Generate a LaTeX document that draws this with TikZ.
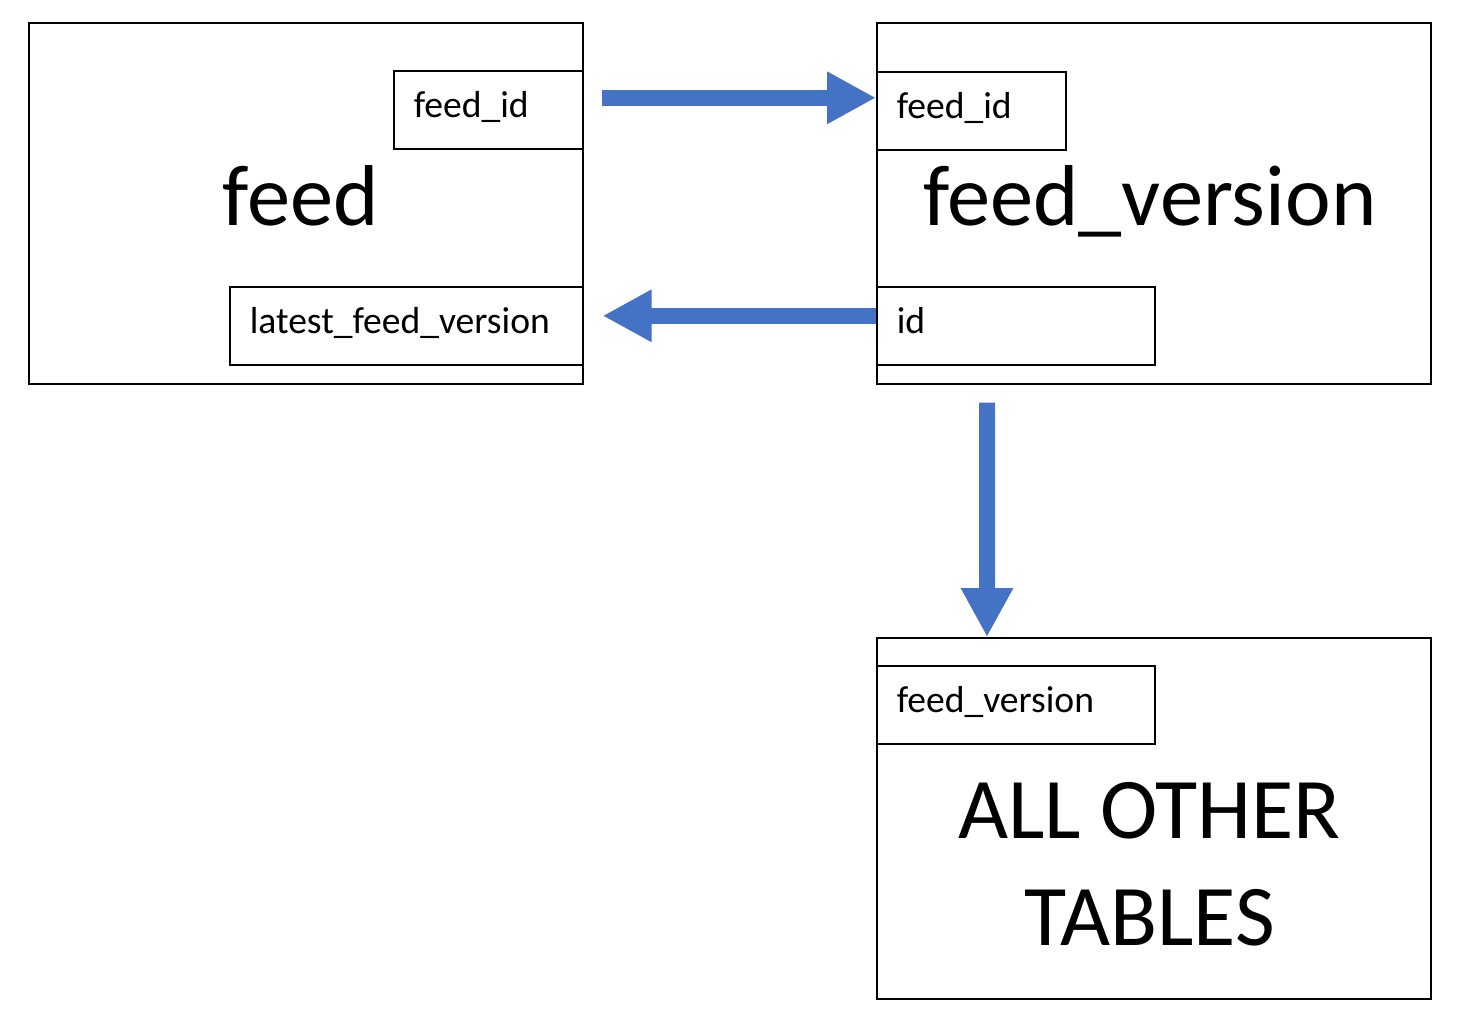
\documentclass[tikz,border=0pt]{standalone}
\usepackage{fontspec}
\setmainfont{Carlito}
\usetikzlibrary{arrows.meta,positioning}

\definecolor{linkblue}{HTML}{4472C4}

\tikzset{
  table/.style={draw, line width=0.45pt, rectangle, minimum width=5.54cm, minimum height=3.61cm, inner sep=0pt},
  field/.style={draw, line width=0.45pt, rectangle, minimum height=0.78cm, inner xsep=0.2cm, inner ysep=0pt,
    align=left, font=\fontsize{10.7}{12}\selectfont, text height=0.22cm, text depth=0.07cm},
  title/.style={anchor=base, align=center, font=\fontsize{24.6}{30.4}\selectfont},
  link/.style={linkblue, line width=0.16cm, -{Triangle[length=0.49cm,width=0.49cm]}}
}

\begin{document}
\begin{tikzpicture}
  \useasboundingbox (0,0) rectangle (14.66,10.32);

  % tables
  \node[table, anchor=north west] (feed) at (0.28,10.10) {};
  \node[table, anchor=north west] (fv) at (8.76,10.10) {};
  \node[table, anchor=north west] (other) at (8.76,3.95) {};

  % table names
  \node[title] (feedname) at ([xshift=-0.05cm,yshift=-2.03cm]feed.north) {feed};
  \node[title] (fvname) at ([xshift=-0.04cm,yshift=-2.03cm]fv.north) {feed\_version};
  \node[title] (othername) at ([xshift=-0.04cm,yshift=-3.08cm]other.north) {ALL OTHER\\TABLES};

  % columns
  \node[field, text width=1.49cm, anchor=north east] (feedid) at ([yshift=-0.48cm]feed.north east) {feed\_id};
  \node[field, text width=3.13cm, anchor=north east] (latest) at ([yshift=-2.64cm]feed.north east) {latest\_feed\_version};
  \node[field, text width=1.49cm, anchor=north west] (fvfeedid) at ([yshift=-0.49cm]fv.north west) {feed\_id};
  \node[field, text width=2.38cm, anchor=north west] (fvid) at ([yshift=-2.64cm]fv.north west) {id};
  \node[field, text width=2.38cm, anchor=north west] (otherfv) at ([yshift=-0.28cm]other.north west) {feed\_version};

  % references
  \draw[link] ([shift={(0.18,0.12)}]feedid.east) -- ([yshift=0.13cm]fvfeedid.west);
  \draw[link] ([yshift=0.1cm]fvid.west) -- ([shift={(0.19,0.1)}]latest.east);
  \draw[link] ([shift={(1.11,-0.18)}]fv.south west) -- ([xshift=1.11cm]other.north west);
\end{tikzpicture}
\end{document}
